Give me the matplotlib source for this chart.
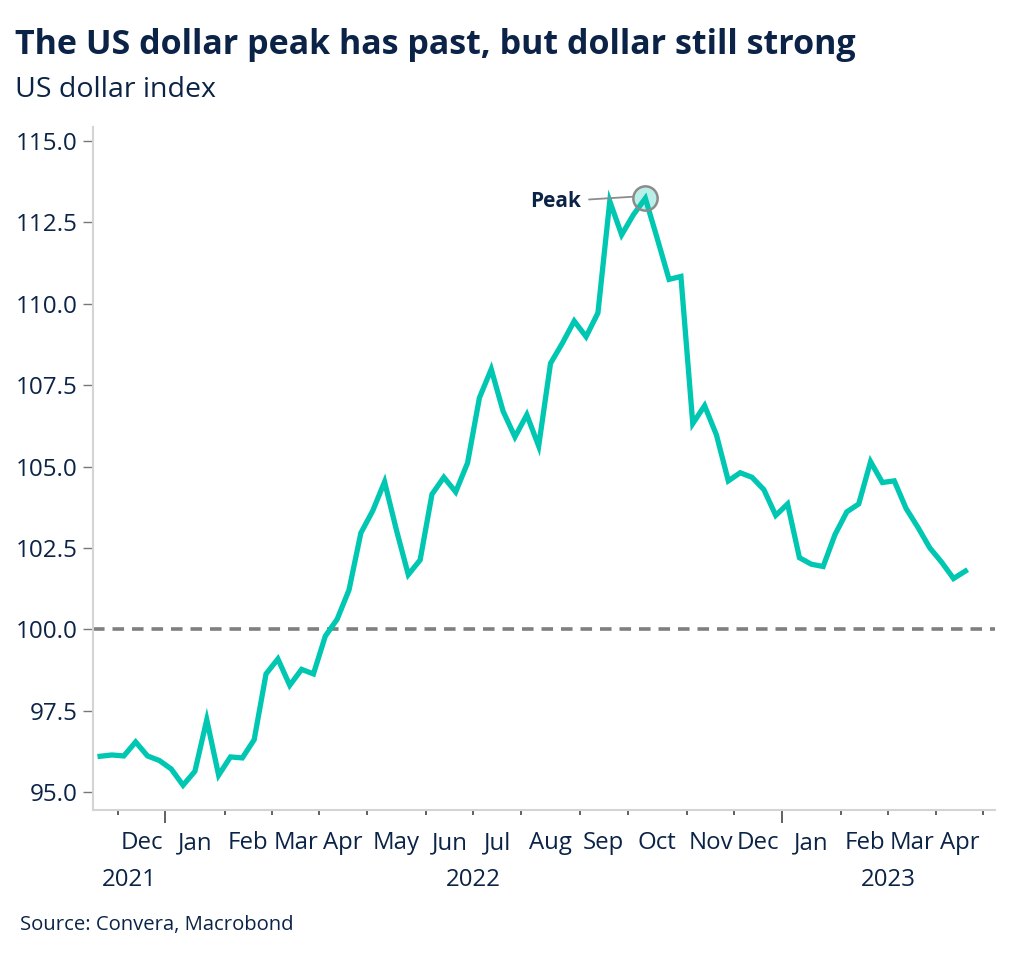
import matplotlib
matplotlib.use("Agg")
import matplotlib.pyplot as plt
import numpy as np
import pandas as pd

# weekly US dollar index (Monday dates)
start_date = "2021-11-22"
dxy = [96.10, 96.14, 96.11, 96.54, 96.11, 95.97, 95.71, 95.21, 95.64, 97.22,
       95.52, 96.08, 96.05, 96.61, 98.63, 99.09, 98.28, 98.77, 98.63, 99.79,
       100.31, 101.21, 102.96, 103.64, 104.53, 103.05, 101.68, 102.13, 104.15, 104.67,
       104.22, 105.11, 107.11, 107.99, 106.70, 105.91, 106.59, 105.63, 108.17, 108.79,
       109.47, 108.99, 109.72, 113.15, 112.12, 112.74, 113.24, 112.01, 110.75, 110.84,
       106.32, 106.87, 105.97, 104.56, 104.81, 104.67, 104.29, 103.50, 103.85, 102.20,
       102.00, 101.93, 102.91, 103.61, 103.85, 105.15, 104.51, 104.56, 103.71, 103.13,
       102.50, 102.06, 101.56, 101.79]
peak_label = "Peak"
baseline = 100.0
yticks = [95.0, 97.5, 100.0, 102.5, 105.0, 107.5, 110.0, 112.5, 115.0]

NAVY = "#0b2346"
TEAL = "#00c7b1"
plt.rcParams["font.family"] = ["Open Sans", "DejaVu Sans"]

n = len(dxy)
dates = pd.date_range(start_date, periods=n + 2, freq="W-MON")
idx = np.arange(n)

fig = plt.figure(figsize=(10.24, 9.58), dpi=100)
ax = fig.add_axes([0.0908, 0.1545, 0.8809, 0.7129])

ax.axhline(baseline, color="#7f7f7f", lw=2.6, ls=(0, (3.2, 2.2)), zorder=1)
ax.plot(idx, dxy, color=TEAL, lw=3.8, zorder=3, solid_joinstyle="miter")

# peak marker
pk = int(np.argmax(dxy))
ax.plot(pk, dxy[pk], "o", ms=17.5, mfc=(0.0, 0.78, 0.69, 0.27), mec="#8c8c8c",
        mew=1.8, zorder=4)
ax.annotate(peak_label, xy=(pk - 1.0, dxy[pk] + 0.05), xytext=(pk - 7.6, dxy[pk] - 0.1),
            ha="center", va="center", fontsize=15, fontweight="bold", color=NAVY,
            arrowprops=dict(arrowstyle="-", color="#8c8c8c", lw=1.3,
                            shrinkA=4, shrinkB=0))

xlim = (-0.6, 75.5)
ax.set_xlim(*xlim)
ax.set_ylim(94.45, 115.43)
ax.set_yticks(yticks)
ax.set_yticklabels([f"{v:.1f}" for v in yticks])

# month boundaries in week-index space
months = dates.to_period("M")
bounds = [i - 0.5 for i in range(1, len(dates)) if months[i] != months[i - 1]]
major = [b for b in bounds if dates[int(b + 0.5)].month == 1]
minor = [b for b in bounds if b not in major]
ax.set_xticks(major)
ax.set_xticks(minor, minor=True)
ax.set_xticklabels([])
ax.tick_params(axis="x", which="major", length=9, width=1.3, color="#555555")
ax.tick_params(axis="x", which="minor", length=3.5, width=1.3, color="#555555")
ax.tick_params(axis="y", length=7, width=1.0, color="#777777", labelsize=17.5,
               labelcolor=NAVY, pad=4)

# month labels centred in each month
for a, b in zip(bounds[:-1], bounds[1:]):
    m = dates[int(a + 0.5)]
    ax.text((a + b) / 2, -0.049, m.strftime("%b"), transform=ax.get_xaxis_transform(),
            ha="center", va="center", fontsize=17.3, color=NAVY)
# year labels
ybounds = [xlim[0]] + major + [xlim[1]]
for k, (a, b) in enumerate(zip(ybounds[:-1], ybounds[1:])):
    yr = dates[0].year + k
    ax.text((a + b) / 2, -0.103, str(yr), transform=ax.get_xaxis_transform(),
            ha="center", va="center", fontsize=17.3, color=NAVY)

for s in ["top", "right"]:
    ax.spines[s].set_visible(False)
for s in ["left", "bottom"]:
    ax.spines[s].set_color("#d4d4d4")
    ax.spines[s].set_linewidth(1.5)

fig.text(0.0146, 0.953, "The US dollar peak has past, but dollar still strong",
         fontsize=24.5, fontweight="bold", color=NAVY, va="center")
fig.text(0.0146, 0.906, "US dollar index", fontsize=20.5, color=NAVY, va="center")
fig.text(0.0195, 0.034, "Source: Convera, Macrobond", fontsize=14.6, color=NAVY, va="center")

fig.savefig("out.png", dpi=100)
